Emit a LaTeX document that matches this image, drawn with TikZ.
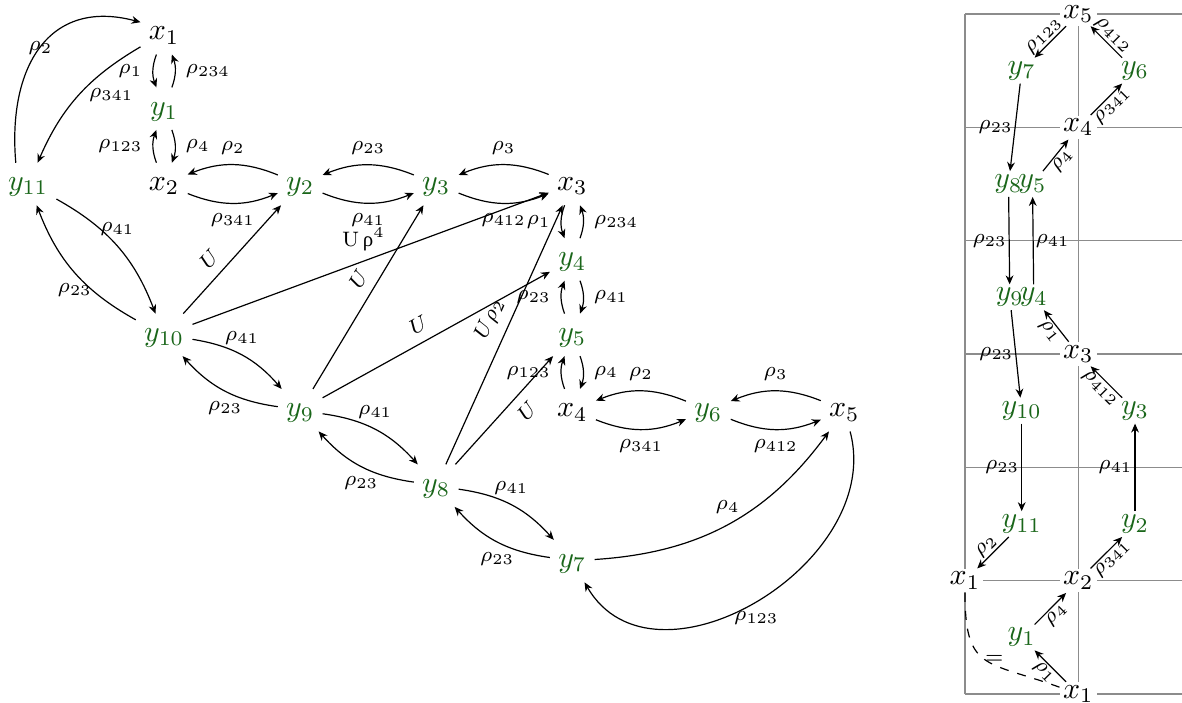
\documentclass[tikz,border=0pt]{standalone}
\usepackage[no-math]{fontspec}
\usepackage{xcolor}
\usepackage{tikz}
\usetikzlibrary{arrows.meta}
\newfontfamily\greekrm{Liberation Serif}
\definecolor{ygreen}{RGB}{26,102,26}
\definecolor{gridgray}{RGB}{140,140,140}

\begin{document}
\begin{tikzpicture}[x=1cm, y=1cm,
  xpt/.style={inner sep=2.6pt, text height=1.5ex, text depth=.5ex},
  ypt/.style={xpt, text=ygreen},
  rxpt/.style={inner sep=1pt, fill=white},
  rypt/.style={inner sep=1pt, text=ygreen},
  arr/.style={-{Stealth[length=3pt, width=2.6pt]}},
  lbl/.style={font=\scriptsize},
  rlbl/.style={font=\scriptsize, inner sep=0.6pt},
  gridline/.style={draw=gridgray, line width=0.4pt}]
\path[use as bounding box] (0,0) rectangle (13.9,8.256);

\node[xpt] (x1) at (1.93,7.865) {$x_1$};
\node[ypt] (y1) at (1.93,6.978) {$y_1$};
\node[ypt] (y11) at (0.33,6.092) {$y_{11}$};
\node[xpt] (x2) at (1.93,6.092) {$x_2$};
\node[ypt] (y2) at (3.53,6.092) {$y_2$};
\node[ypt] (y3) at (5.13,6.092) {$y_3$};
\node[xpt] (x3) at (6.73,6.092) {$x_3$};
\node[ypt] (y4) at (6.73,5.205) {$y_4$};
\node[ypt] (y10) at (1.93,4.318) {$y_{10}$};
\node[ypt] (y5) at (6.73,4.318) {$y_5$};
\node[ypt] (y9) at (3.53,3.432) {$y_9$};
\node[xpt] (x4) at (6.73,3.432) {$x_4$};
\node[ypt] (y6) at (8.33,3.432) {$y_6$};
\node[xpt] (x5) at (9.93,3.432) {$x_5$};
\node[ypt] (y8) at (5.13,2.545) {$y_8$};
\node[ypt] (y7) at (6.73,1.658) {$y_7$};

\draw[arr] (x1) to[bend right=20] node[lbl, left] {$\rho_1$} (y1);
\draw[arr] (y1) to[bend right=20] node[lbl, right] {$\rho_{234}$} (x1);
\draw[arr] (x2) to[bend left=20] node[lbl, left] {$\rho_{123}$} (y1);
\draw[arr] (y1) to[bend left=20] node[lbl, right] {$\rho_4$} (x2);
\draw[arr] (y2) to[bend right=22] node[lbl, above] {$\rho_2$} (x2);
\draw[arr] (x2) to[bend right=22] node[lbl, below] {$\rho_{341}$} (y2);
\draw[arr] (y3) to[bend right=22] node[lbl, above] {$\rho_{23}$} (y2);
\draw[arr] (y2) to[bend right=22] node[lbl, below] {$\rho_{41}$} (y3);
\draw[arr] (x3) to[bend right=22] node[lbl, above] {$\rho_3$} (y3);
\draw[arr] (y3) to[bend right=22] node[lbl, below] {$\rho_{412}$} (x3);
\draw[arr] (x3) to[bend right=20] node[lbl, left] {$\rho_1$} (y4);
\draw[arr] (y4) to[bend right=20] node[lbl, right] {$\rho_{234}$} (x3);
\draw[arr] (y5) to[bend left=20] node[lbl, left] {$\rho_{23}$} (y4);
\draw[arr] (y4) to[bend left=20] node[lbl, right] {$\rho_{41}$} (y5);
\draw[arr] (x4) to[bend left=20] node[lbl, left] {$\rho_{123}$} (y5);
\draw[arr] (y5) to[bend left=20] node[lbl, right] {$\rho_4$} (x4);
\draw[arr] (y6) to[bend right=22] node[lbl, above] {$\rho_2$} (x4);
\draw[arr] (x4) to[bend right=22] node[lbl, below] {$\rho_{341}$} (y6);
\draw[arr] (x5) to[bend right=22] node[lbl, above] {$\rho_3$} (y6);
\draw[arr] (y6) to[bend right=22] node[lbl, below] {$\rho_{412}$} (x5);

\draw[arr] (y11) to[bend left=20] node[lbl, above] {$\rho_{41}$} (y10);
\draw[arr] (y10) to[bend left=20] node[lbl, below] {$\rho_{23}$} (y11);
\draw[arr] (y10) to[bend left=20] node[lbl, above] {$\rho_{41}$} (y9);
\draw[arr] (y9) to[bend left=20] node[lbl, below] {$\rho_{23}$} (y10);
\draw[arr] (y9) to[bend left=20] node[lbl, above] {$\rho_{41}$} (y8);
\draw[arr] (y8) to[bend left=20] node[lbl, below] {$\rho_{23}$} (y9);
\draw[arr] (y8) to[bend left=20] node[lbl, above] {$\rho_{41}$} (y7);
\draw[arr] (y7) to[bend left=20] node[lbl, below] {$\rho_{23}$} (y8);

\draw[arr] (y11.120) to[out=95, in=165, looseness=1.3] node[lbl, pos=.5, inner sep=0pt] {$\rho_2$} (x1.155);
\draw[arr] (x1) to[bend right=18] node[lbl, right] {$\rho_{341}$} (y11);
\draw[arr] (y7) to[bend right=25] node[lbl, above] {$\rho_4$} (x5);
\draw[arr] (x5) to[out=-75, in=-60, looseness=1.15] node[lbl, below] {$\rho_{123}$} (y7);

\draw[arr] (y10) -- node[lbl, sloped, above, pos=.4] {$U$} (y2);
\draw[arr] (y10) -- node[lbl, above, pos=.48] {U\,{\greekrm ρ}\textsuperscript{4}} (x3);
\draw[arr] (y9) -- node[lbl, sloped, above, pos=.55] {$U$} (y3);
\draw[arr] (y9) -- node[lbl, sloped, above, pos=.46] {$U$} (y4);
\draw[arr] (y8) -- node[lbl, sloped, above, pos=.53] {$U\rho_2$} (x3);
\draw[arr] (y8) -- node[lbl, sloped, below, pos=.6] {$U$} (y5);

\draw[gridline] (11.348,8.092) -- (13.9,8.092);
\draw[gridline] (11.348,6.759) -- (13.9,6.759);
\draw[gridline] (11.348,5.426) -- (13.9,5.426);
\draw[gridline] (11.348,4.093) -- (13.9,4.093);
\draw[gridline] (11.348,2.760) -- (13.9,2.760);
\draw[gridline] (11.348,1.427) -- (13.9,1.427);
\draw[gridline] (11.348,0.094) -- (13.9,0.094);
\draw[gridline] (11.348,0.094) -- (11.348,8.092);
\draw[gridline] (12.681,0.094) -- (12.681,8.092);

\node[rxpt] (rx5) at (12.681,8.092) {$x_5$};
\node[rypt] (ry7) at (12.015,7.425) {$y_7$};
\node[rypt] (ry6) at (13.348,7.425) {$y_6$};
\node[rxpt] (rx4) at (12.681,6.759) {$x_4$};
\node[rypt] (ry8) at (11.860,6.092) {$y_8$};
\node[rypt] (ry5) at (12.142,6.092) {$y_5$};
\node[rypt] (ry9) at (11.875,4.760) {$y_9$};
\node[rypt] (ry4) at (12.157,4.760) {$y_4$};
\node[rxpt] (rx3) at (12.681,4.093) {$x_3$};
\node[rypt] (ry10) at (12.015,3.427) {$y_{10}$};
\node[rypt] (ry3) at (13.348,3.427) {$y_3$};
\node[rypt] (ry11) at (12.015,2.093) {$y_{11}$};
\node[rypt] (ry2) at (13.348,2.093) {$y_2$};
\node[rxpt] (rx1) at (11.348,1.427) {$x_1$};
\node[rxpt] (rx2) at (12.681,1.427) {$x_2$};
\node[rypt] (ry1) at (12.015,0.760) {$y_1$};
\node[rxpt] (rx1b) at (12.681,0.094) {$x_1$};

\draw[arr] (rx5) -- node[rlbl, sloped, above] {$\rho_{123}$} (ry7);
\draw[arr] (ry6) -- node[rlbl, sloped, above] {$\rho_{412}$} (rx5);
\draw[arr] (rx4) -- node[rlbl, sloped, below] {$\rho_{341}$} (ry6);
\draw[arr] (ry7) -- node[rlbl, left] {$\rho_{23}$} (ry8);
\draw[arr] (ry5) -- node[rlbl, sloped, below] {$\rho_4$} (rx4);
\draw[arr] (ry8) -- node[rlbl, left] {$\rho_{23}$} (ry9);
\draw[arr] (ry4) -- node[rlbl, right] {$\rho_{41}$} (ry5);
\draw[arr] (rx3) -- node[rlbl, sloped, below] {$\rho_1$} (ry4);
\draw[arr] (ry9) -- node[rlbl, left] {$\rho_{23}$} (ry10);
\draw[arr] (ry3) -- node[rlbl, sloped, below] {$\rho_{412}$} (rx3);
\draw[arr] (ry10) -- node[rlbl, left] {$\rho_{23}$} (ry11);
\draw[arr] (ry2) -- node[rlbl, left] {$\rho_{41}$} (ry3);
\draw[arr] (ry11) -- node[rlbl, sloped, above] {$\rho_2$} (rx1);
\draw[arr] (rx2) -- node[rlbl, sloped, below] {$\rho_{341}$} (ry2);
\draw[arr] (ry1) -- node[rlbl, sloped, below] {$\rho_4$} (rx2);
\draw[arr] (rx1b) -- node[rlbl, sloped, below] {$\rho_1$} (ry1);
\draw[dashed] (rx1) to[out=-90, in=160, looseness=1.5] node[rlbl, pos=.5, right, inner sep=0pt] {$=$} (rx1b);
\end{tikzpicture}
\end{document}
